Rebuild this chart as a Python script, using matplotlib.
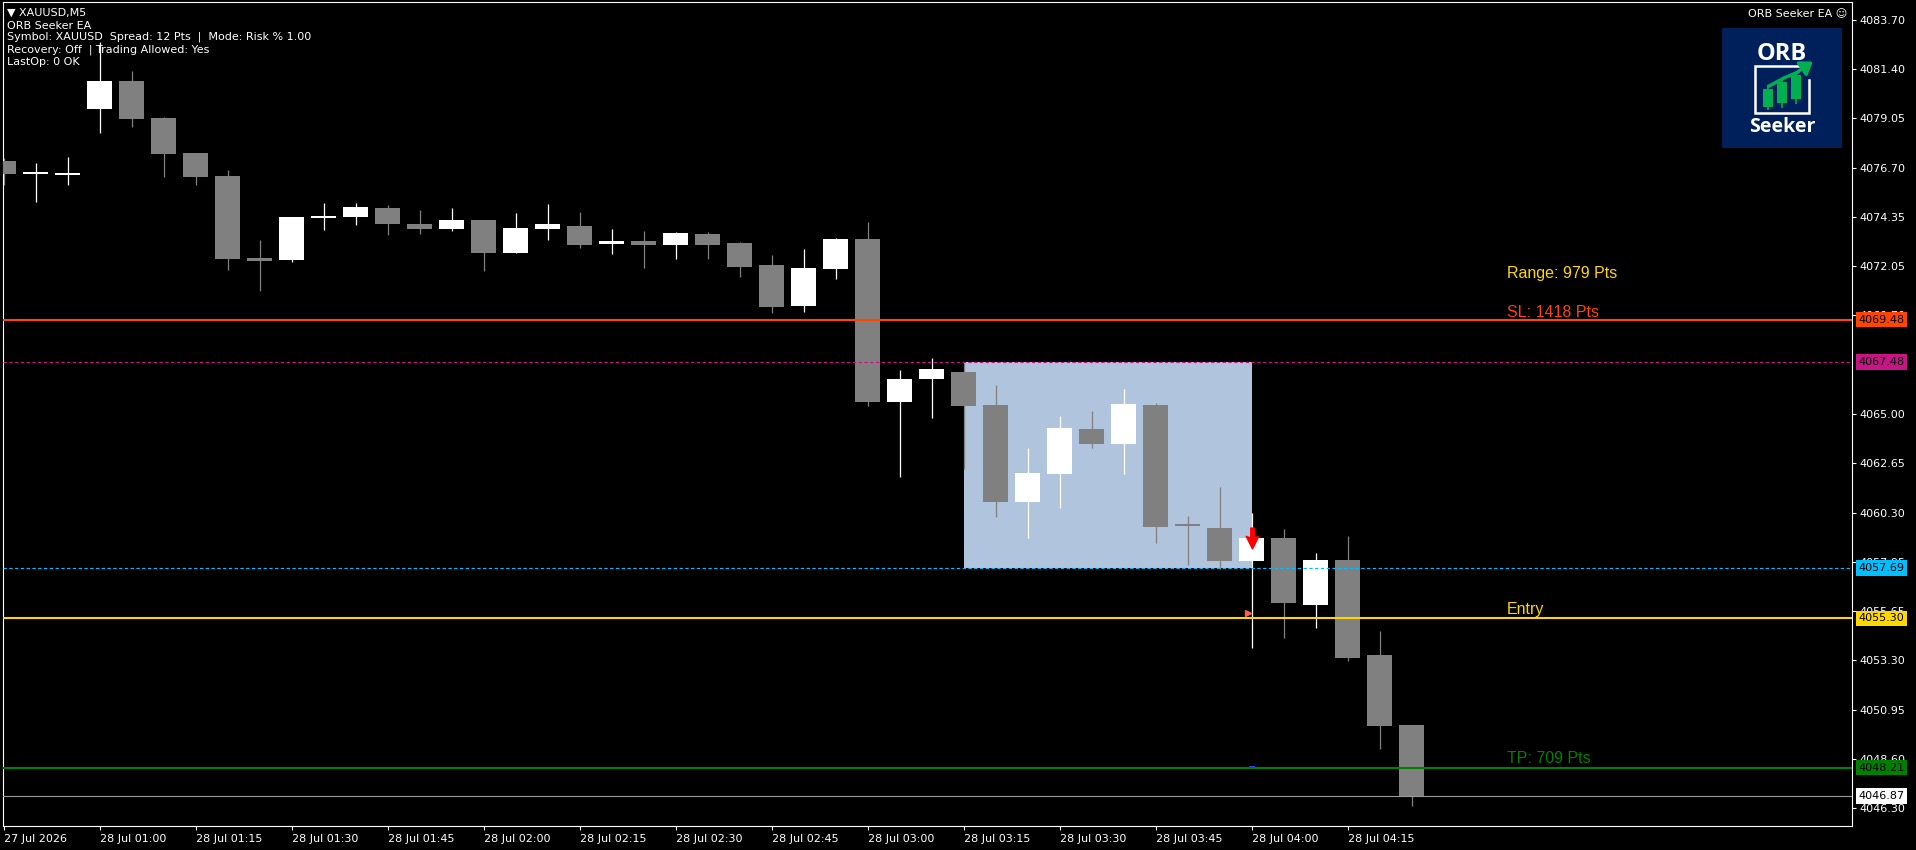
import matplotlib
matplotlib.use("Agg")
import matplotlib.pyplot as plt
from matplotlib.patches import Rectangle
from matplotlib.path import Path
import numpy as np

W, H = 1916, 850

# --- data (XAUUSD M5) ---
times = ["00:45", "00:50", "00:55", "01:00", "01:05", "01:10", "01:15", "01:20", "01:25",
         "01:30", "01:35", "01:40", "01:45", "01:50", "01:55", "02:00", "02:05", "02:10",
         "02:15", "02:20", "02:25", "02:30", "02:35", "02:40", "02:45", "02:50", "02:55",
         "03:00", "03:05", "03:10", "03:15", "03:20", "03:25", "03:30", "03:35", "03:40",
         "03:45", "03:50", "03:55", "04:00", "04:05", "04:10", "04:15", "04:20", "04:25"]
opens = [4077.01, 4076.38, 4076.33, 4079.48, 4080.81, 4079.06, 4077.39, 4076.30, 4072.40,
         4072.29, 4074.31, 4074.37, 4074.78, 4074.02, 4073.79, 4074.21, 4072.64, 4073.78,
         4073.93, 4073.05, 4073.19, 4073.02, 4073.54, 4073.12, 4072.07, 4070.13, 4071.89,
         4073.31, 4065.57, 4066.66, 4066.99, 4065.43, 4060.82, 4062.15, 4064.29, 4063.58,
         4065.43, 4059.68, 4059.58, 4058.02, 4059.11, 4055.93, 4058.07, 4053.56, 4050.23]
highs = [4077.14, 4076.92, 4077.20, 4082.66, 4081.29, 4079.10, 4077.40, 4076.59, 4073.26,
         4074.35, 4075.02, 4075.02, 4074.92, 4074.69, 4074.78, 4074.23, 4074.54, 4074.97,
         4074.59, 4073.78, 4073.69, 4073.64, 4073.64, 4073.17, 4072.55, 4072.83, 4073.36,
         4074.12, 4067.09, 4067.66, 4067.40, 4066.38, 4063.39, 4064.91, 4065.14, 4066.19,
         4065.52, 4060.16, 4061.53, 4060.30, 4059.54, 4058.40, 4059.21, 4054.70, 4050.25]
lows = [4075.87, 4075.08, 4075.87, 4078.36, 4078.63, 4076.27, 4075.87, 4071.84, 4070.86,
        4072.22, 4073.74, 4073.97, 4073.51, 4073.55, 4073.69, 4071.79, 4072.62, 4073.26,
        4072.88, 4072.60, 4071.93, 4072.36, 4072.36, 4071.51, 4069.80, 4069.85, 4071.41,
        4065.38, 4062.01, 4064.81, 4062.39, 4060.11, 4059.11, 4060.54, 4063.39, 4062.15,
        4058.87, 4057.83, 4057.64, 4053.90, 4054.38, 4054.85, 4053.29, 4049.11, 4046.40]
closes = [4076.41, 4076.46, 4076.42, 4080.81, 4079.01, 4077.36, 4076.27, 4072.36, 4072.28,
          4074.35, 4074.42, 4074.83, 4074.03, 4073.79, 4074.21, 4072.64, 4073.83, 4074.02,
          4073.02, 4073.19, 4073.02, 4073.59, 4073.02, 4071.98, 4070.08, 4071.93, 4073.31,
          4065.57, 4066.66, 4067.14, 4065.38, 4060.82, 4062.20, 4064.34, 4063.58, 4065.47,
          4059.63, 4059.58, 4058.02, 4059.11, 4056.03, 4058.07, 4053.43, 4050.20, 4046.87]

tick_idx = [0, 3, 6, 9, 12, 15, 18, 21, 24, 27, 30, 33, 36, 39, 42]
tick_labels = ["27 Jul 2026", "28 Jul 01:00", "28 Jul 01:15", "28 Jul 01:30", "28 Jul 01:45",
               "28 Jul 02:00", "28 Jul 02:15", "28 Jul 02:30", "28 Jul 02:45", "28 Jul 03:00",
               "28 Jul 03:15", "28 Jul 03:30", "28 Jul 03:45", "28 Jul 04:00", "28 Jul 04:15"]
# 4067.35 sits fully under the range-high tag, so it is left out
price_ticks = [4083.70, 4081.40, 4079.05, 4076.70, 4074.35, 4072.05, 4069.70,
               4065.00, 4062.65, 4060.30, 4057.95, 4055.65, 4053.30, 4050.95, 4048.60, 4046.30]

range_high, range_low = 4067.48, 4057.69
range_start, range_end = 30, 39
sl_price, entry_price, tp_price, bid_price = 4069.48, 4055.30, 4048.21, 4046.87
signal_bar, signal_price = 39, 4059.13
deal_price = 4055.55

info_lines = ["ORB Seeker EA",
              "Symbol: XAUUSD  Spread: 12 Pts  |  Mode: Risk % 1.00",
              "Recovery: Off  | Trading Allowed: Yes",
              "LastOp: 0 OK"]

# --- figure ---
fig = plt.figure(figsize=(W / 100, H / 100), dpi=100, facecolor="black")
L, R, T, B = 3, 1852, 2, 826
ax = fig.add_axes([L / W, (H - B) / H, (R - L) / W, (B - T) / H])
ax.set_facecolor("black")

x = np.arange(len(times))
o, h, l, c = map(np.array, (opens, highs, lows, closes))
up = c >= o
cols = np.where(up, "white", "#808080")

ax.add_patch(Rectangle((range_start, range_low), range_end - range_start,
                       range_high - range_low, fc="#B0C4DE", ec="none", zorder=1))
ax.vlines(x, l, h, colors=cols, lw=0.9, zorder=2)
body = np.where(np.abs(c - o) < 0.1, 0.1, c - o)
ax.bar(x, body, bottom=o, width=0.78, color=cols, edgecolor="none", zorder=3)

dash = (0, (3.0, 2.2))
ax.axhline(sl_price, color="#FF4500", lw=1.5, zorder=4)
ax.axhline(range_high, color="#C71585", lw=0.8, ls=dash, zorder=4)
ax.axhline(range_low, color="#00BFFF", lw=0.8, ls=dash, zorder=4)
ax.axhline(entry_price, color="#FFD700", lw=1.5, zorder=4)
ax.axhline(tp_price, color="#008000", lw=1.5, zorder=4)
ax.axhline(bid_price, color="#9A9A9A", lw=0.8, zorder=4)

# sell arrow + deal marks
arrow = Path([(-0.17, 1.0), (0.17, 1.0), (0.17, 0.05), (0.6, 0.2), (0.0, -1.0),
              (-0.6, 0.2), (-0.17, 0.05), (-0.17, 1.0)], closed=True)
ax.plot(signal_bar, signal_price, marker=arrow, ms=15, color="#FF0000", mec="#FF0000", zorder=6)
ax.plot(signal_bar - 0.1, deal_price, marker=">", ms=4.5, color="#FF6347", mec="#FF6347", zorder=6)
ax.plot(signal_bar, tp_price + 0.05, marker="_", ms=5, color="#1E3CFF", mew=1.5, zorder=6)

# line labels
lab_x = 46.98
tfont = dict(family=["Liberation Sans", "DejaVu Sans"], fontsize=11.5, zorder=7)
ax.text(lab_x, 4071.44, "Range: 979 Pts", color="#FFD700", va="baseline", **tfont)
ax.text(lab_x, sl_price + 0.14, "SL: 1418 Pts", color="#FF4500", va="baseline", **tfont)
ax.text(lab_x, entry_price + 0.19, "Entry", color="#FFD700", va="baseline", **tfont)
ax.text(lab_x, tp_price + 0.2, "TP: 709 Pts", color="#008000", va="baseline", **tfont)

ax.set_xlim((L - 3.5) / 32, (R - 3.5) / 32)
ax.set_ylim(4045.44, 4084.56)

for s in ax.spines.values():
    s.set_color("white")
    s.set_linewidth(0.8)

ax.yaxis.tick_right()
ax.set_yticks(price_ticks)
ax.set_yticklabels([f"{p:.2f}" for p in price_ticks])
ax.tick_params(axis="y", colors="white", length=3, width=0.8, pad=2, labelsize=8)
ax.set_xticks(tick_idx)
ax.set_xticklabels(tick_labels, ha="left")
ax.tick_params(axis="x", colors="white", length=3, width=0.8, pad=3, labelsize=8)

# price tags on the scale
tags = [(sl_price, "#FF4500"), (range_high, "#C71585"), (range_low, "#00BFFF"),
        (entry_price, "#FFD700"), (tp_price, "#008000"), (bid_price, "white")]
for p, col in tags:
    ax.text(1.0035, p, f"{p:.2f}", transform=ax.get_yaxis_transform(), color="black",
            fontsize=8, va="center", ha="left", clip_on=False, zorder=8,
            bbox=dict(boxstyle="square,pad=0.25", fc=col, ec="none"))

# info text top-left
fig.text(7 / W, 1 - 13 / H, "\u25bc XAUUSD,M5", color="white", fontsize=8, va="center")
for t, yy in zip(info_lines, [26, 37, 50, 62]):
    fig.text(7 / W, 1 - yy / H, t, color="white", fontsize=8, va="center")
fig.text(1847 / W, 1 - 14 / H, "ORB Seeker EA \u263a", color="white", fontsize=8,
         va="center", ha="right")

# logo
lg = fig.add_axes([1722 / W, (H - 148) / H, 120 / W, 120 / H])
lg.set_xlim(0, 120)
lg.set_ylim(120, 0)
lg.axis("off")
lg.add_patch(Rectangle((0, 0), 120, 120, fc="#00205B", ec="none"))
lg.text(60, 26, "ORB", color="white", fontsize=17, fontweight="bold", ha="center",
        va="center", family=["Open Sans", "DejaVu Sans"])
lg.text(60, 99, "Seeker", color="white", fontsize=14, fontweight="bold", ha="center",
        va="center", family=["Open Sans", "DejaVu Sans"])
lg.plot([80, 33, 33, 87, 87], [38, 38, 85, 85, 52], color="white", lw=1.8,
        solid_joinstyle="miter")
logo_bars = [(45.5, 61, 79, 58, 82), (60, 54, 75, 51, 80), (74, 47, 71, 44, 76)]
for cx, top, bot, wt, wb in logo_bars:
    lg.vlines(cx, wt, wb, color="#00B050", lw=1.2)
    lg.add_patch(Rectangle((cx - 5, top), 10, bot - top, fc="#00B050", ec="none"))
lg.plot([47, 62, 76], [58, 50, 44], color="#00B050", lw=2.4)
lg.annotate("", xy=(93, 32), xytext=(74, 45),
            arrowprops=dict(arrowstyle="-|>,head_length=0.7,head_width=0.5",
                            color="#00B050", lw=2.4))

fig.savefig("out.png", dpi=100, facecolor="black")
